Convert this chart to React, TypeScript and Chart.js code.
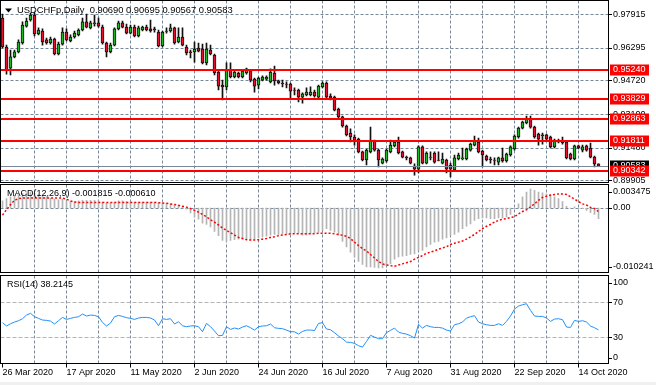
import React, { useEffect, useRef } from 'react';
import { Chart, registerables } from 'chart.js';

Chart.register(...registerables);

// ---------- data ----------
const dateTicks = ['26 Mar 2020', '17 Apr 2020', '11 May 2020', '2 Jun 2020', '24 Jun 2020', '16 Jul 2020', '7 Aug 2020', '31 Aug 2020', '22 Sep 2020', '14 Oct 2020'];
const BARS_PER_LABEL = 16;
const BARS_PER_GRID = 8;
const SLOT_COUNT = 152;

const opens = [
  0.9774, 0.9634, 0.9532, 0.9586, 0.9610, 0.9653, 0.9735, 0.9764, 0.9788, 0.9697,
  0.9711, 0.9668, 0.9653, 0.9672, 0.9600, 0.9648, 0.9706, 0.9663, 0.9682, 0.9692,
  0.9716, 0.9755, 0.9726, 0.9747, 0.9750, 0.9730, 0.9653, 0.9610, 0.9643, 0.9721,
  0.9750, 0.9730, 0.9701, 0.9730, 0.9687, 0.9716, 0.9730, 0.9721, 0.9721, 0.9706,
  0.9639, 0.9711, 0.9711, 0.9726, 0.9658, 0.9682, 0.9634, 0.9610, 0.9610, 0.9629,
  0.9624, 0.9557, 0.9619, 0.9595, 0.9513, 0.9450, 0.9441, 0.9523, 0.9489, 0.9508,
  0.9489, 0.9508, 0.9518, 0.9479, 0.9450, 0.9474, 0.9479, 0.9465, 0.9508, 0.9470,
  0.9460, 0.9455, 0.9455, 0.9426, 0.9426, 0.9392, 0.9402, 0.9402, 0.9416, 0.9392,
  0.9441, 0.9460, 0.9397, 0.9392, 0.9334, 0.9296, 0.9252, 0.9218, 0.9199, 0.9189,
  0.9127, 0.9088, 0.9127, 0.9180, 0.9136, 0.9073, 0.9083, 0.9127, 0.9156, 0.9175,
  0.9127, 0.9102, 0.9098, 0.9059, 0.9044, 0.9151, 0.9073, 0.9102, 0.9122, 0.9088,
  0.9073, 0.9088, 0.9064, 0.9040, 0.9093, 0.9093, 0.9093, 0.9136, 0.9160, 0.9175,
  0.9131, 0.9107, 0.9093, 0.9088, 0.9078, 0.9098, 0.9083, 0.9112, 0.9141, 0.9199,
  0.9242, 0.9267, 0.9286, 0.9247, 0.9213, 0.9209, 0.9209, 0.9199, 0.9151, 0.9184,
  0.9180, 0.9175, 0.9117, 0.9093, 0.9156, 0.9136, 0.9156, 0.9146, 0.9102, 0.90690,
];
const highs = [
  0.9793, 0.9643, 0.9619, 0.9619, 0.9668, 0.9755, 0.9774, 0.9798, 0.9798, 0.9726,
  0.9721, 0.9677, 0.9682, 0.9677, 0.9658, 0.9726, 0.9721, 0.9692, 0.9711, 0.9721,
  0.9774, 0.9793, 0.9759, 0.9788, 0.9774, 0.9740, 0.9658, 0.9653, 0.9726, 0.9759,
  0.9759, 0.9745, 0.9740, 0.9740, 0.9735, 0.9735, 0.9740, 0.9764, 0.9730, 0.9716,
  0.9711, 0.9726, 0.9745, 0.9730, 0.9726, 0.9726, 0.9643, 0.9619, 0.9658, 0.9653,
  0.9648, 0.9653, 0.9643, 0.9600, 0.9518, 0.9474, 0.9557, 0.9557, 0.9518, 0.9513,
  0.9523, 0.9532, 0.9523, 0.9484, 0.9489, 0.9494, 0.9494, 0.9528, 0.9542, 0.9474,
  0.9474, 0.9465, 0.9460, 0.9436, 0.9431, 0.9412, 0.9436, 0.9441, 0.9426, 0.9450,
  0.9465, 0.9465, 0.9407, 0.9397, 0.9339, 0.9300, 0.9257, 0.9238, 0.9209, 0.9194,
  0.9131, 0.9141, 0.9247, 0.9184, 0.9141, 0.9098, 0.9141, 0.9184, 0.9180, 0.9199,
  0.9131, 0.9107, 0.9102, 0.9069, 0.9156, 0.9156, 0.9127, 0.9127, 0.9127, 0.9127,
  0.9122, 0.9093, 0.9073, 0.9112, 0.9122, 0.9146, 0.9146, 0.9170, 0.9204, 0.9194,
  0.9136, 0.9112, 0.9102, 0.9098, 0.9102, 0.9146, 0.9122, 0.9156, 0.9209, 0.9247,
  0.9276, 0.9300, 0.9300, 0.9252, 0.9218, 0.9218, 0.9213, 0.9204, 0.9189, 0.9189,
  0.9199, 0.9180, 0.9122, 0.9160, 0.9160, 0.9160, 0.9160, 0.9170, 0.9107, 0.90695,
];
const lows = [
  0.9629, 0.9503, 0.9499, 0.9581, 0.9605, 0.9648, 0.9730, 0.9759, 0.9687, 0.9692,
  0.9643, 0.9648, 0.9648, 0.9595, 0.9595, 0.9643, 0.9663, 0.9658, 0.9677, 0.9687,
  0.9711, 0.9726, 0.9721, 0.9735, 0.9730, 0.9648, 0.9586, 0.9605, 0.9639, 0.9716,
  0.9726, 0.9697, 0.9697, 0.9682, 0.9682, 0.9711, 0.9711, 0.9706, 0.9706, 0.9634,
  0.9634, 0.9701, 0.9706, 0.9648, 0.9653, 0.9639, 0.9595, 0.9581, 0.9561, 0.9610,
  0.9552, 0.9547, 0.9595, 0.9499, 0.9426, 0.9378, 0.9426, 0.9484, 0.9484, 0.9484,
  0.9484, 0.9503, 0.9465, 0.9416, 0.9431, 0.9470, 0.9474, 0.9460, 0.9450, 0.9455,
  0.9441, 0.9436, 0.9387, 0.9402, 0.9368, 0.9363, 0.9397, 0.9397, 0.9392, 0.9387,
  0.9436, 0.9383, 0.9378, 0.9325, 0.9291, 0.9247, 0.9204, 0.9175, 0.9160, 0.9122,
  0.9083, 0.9064, 0.9122, 0.9131, 0.9054, 0.9069, 0.9078, 0.9122, 0.9151, 0.9117,
  0.9098, 0.9088, 0.9069, 0.9015, 0.9025, 0.9069, 0.9069, 0.9088, 0.9073, 0.9083,
  0.9069, 0.9025, 0.9006, 0.9035, 0.9088, 0.9088, 0.9088, 0.9131, 0.9156, 0.9122,
  0.9054, 0.9083, 0.9073, 0.9064, 0.9064, 0.9078, 0.9078, 0.9107, 0.9136, 0.9194,
  0.9238, 0.9262, 0.9242, 0.9194, 0.9160, 0.9165, 0.9184, 0.9146, 0.9146, 0.9170,
  0.9165, 0.9093, 0.9088, 0.9088, 0.9141, 0.9127, 0.9131, 0.9098, 0.9054, 0.90567,
];
const closes = [
  0.9634, 0.9523, 0.9586, 0.9610, 0.9658, 0.9740, 0.9759, 0.9788, 0.9697, 0.9716,
  0.9658, 0.9653, 0.9672, 0.9600, 0.9648, 0.9706, 0.9668, 0.9682, 0.9701, 0.9716,
  0.9755, 0.9730, 0.9750, 0.9750, 0.9735, 0.9653, 0.9610, 0.9643, 0.9721, 0.9750,
  0.9730, 0.9701, 0.9730, 0.9687, 0.9726, 0.9730, 0.9716, 0.9711, 0.9716, 0.9639,
  0.9706, 0.9709, 0.9726, 0.9653, 0.9682, 0.9643, 0.9605, 0.9607, 0.9624, 0.9614,
  0.9557, 0.9624, 0.9600, 0.9508, 0.9445, 0.9441, 0.9523, 0.9489, 0.9513, 0.9489,
  0.9518, 0.9528, 0.9474, 0.9445, 0.9484, 0.9489, 0.9489, 0.9513, 0.9470, 0.9460,
  0.9457, 0.9453, 0.9421, 0.9424, 0.9392, 0.9407, 0.9416, 0.9416, 0.9397, 0.9445,
  0.9460, 0.9392, 0.9387, 0.9329, 0.9296, 0.9252, 0.9209, 0.9199, 0.9184, 0.9127,
  0.9088, 0.9136, 0.9184, 0.9136, 0.9088, 0.9093, 0.9136, 0.9160, 0.9175, 0.9122,
  0.9102, 0.9098, 0.9073, 0.9044, 0.9151, 0.9073, 0.9122, 0.9100, 0.9078, 0.9086,
  0.9093, 0.9044, 0.9044, 0.9098, 0.9112, 0.9098, 0.9141, 0.9165, 0.9180, 0.9127,
  0.9112, 0.9088, 0.9090, 0.9086, 0.9098, 0.9083, 0.9117, 0.9151, 0.9204, 0.9242,
  0.9271, 0.9291, 0.9247, 0.9199, 0.9189, 0.9206, 0.9189, 0.9151, 0.9184, 0.9175,
  0.9170, 0.9098, 0.9093, 0.9156, 0.9146, 0.9151, 0.9136, 0.9102, 0.9069, 0.90583,
];

const macdHist = [
  0.0012, 0.0016, 0.0019, 0.0021, 0.0023, 0.0025, 0.0026, 0.0027, 0.0025, 0.0023,
  0.0021, 0.0019, 0.0017, 0.0015, 0.0014, 0.0015, 0.0012, 0.0011, 0.0011, 0.0012,
  0.0013, 0.0013, 0.0013, 0.0013, 0.0012, 0.0010, 0.0008, 0.0008, 0.0010, 0.0012,
  0.0012, 0.0011, 0.0011, 0.0010, 0.0010, 0.0010, 0.0010, 0.0010, 0.0010, 0.0009,
  0.0008, 0.0008, 0.0007, 0.0005, 0.0004, 0.0002, -0.0002, -0.00085, -0.0015, -0.0019,
  -0.0026, -0.0028, -0.0032, -0.0040, -0.0047, -0.0055, -0.0057, -0.0055, -0.0054, -0.0053,
  -0.0053, -0.0054, -0.0054, -0.0053, -0.0051, -0.0049, -0.0048, -0.0046, -0.0045, -0.0045,
  -0.0044, -0.0044, -0.0044, -0.0043, -0.0043, -0.0046, -0.0046, -0.0044, -0.0042, -0.0041,
  -0.0038, -0.0035, -0.0038, -0.0041, -0.0046, -0.0057, -0.0066, -0.0075, -0.0083, -0.0091,
  -0.0096, -0.0100, -0.0100, -0.0101, -0.0102, -0.0102, -0.0098, -0.0095, -0.0087, -0.0083,
  -0.0082, -0.0081, -0.0079, -0.0078, -0.0072, -0.0072, -0.0066, -0.0062, -0.0058, -0.0057,
  -0.0053, -0.0051, -0.0046, -0.0045, -0.0041, -0.0035, -0.0031, -0.0027, -0.0021, -0.0018,
  -0.0017, -0.0017, -0.0018, -0.0018, -0.0017, -0.0017, -0.0015, -0.0011, -0.0001, 0.0007,
  0.0019, 0.0027, 0.0032, 0.0030, 0.0027, 0.0026, 0.0024, 0.0022, 0.0019, 0.0016,
  0.0011, 0.0003, 0.0000, 0.0002, -0.0001, -0.0001, -0.0004, -0.0008, -0.0011, -0.001815,
];
const macdSignal = [
  -0.0012, -0.0003, 0.0006, 0.0013, 0.0016, 0.0017, 0.0017, 0.0017, 0.0017, 0.0017,
  0.0017, 0.0017, 0.0017, 0.0017, 0.0017, 0.0017, 0.0015, 0.0012, 0.0010, 0.00095,
  0.00095, 0.00095, 0.00095, 0.00095, 0.00095, 0.00095, 0.00095, 0.00095, 0.00095, 0.00095,
  0.00095, 0.00095, 0.00095, 0.00095, 0.00095, 0.00095, 0.00095, 0.00095, 0.00095, 0.0009,
  0.00085, 0.0008, 0.0007, 0.0006, 0.00045, 0.0003, 0.00015, -0.0001, -0.0004, -0.0007,
  -0.0011, -0.0015, -0.0020, -0.0024, -0.0029, -0.0034, -0.0038, -0.0042, -0.0046, -0.0050,
  -0.0052, -0.0054, -0.00545, -0.00545, -0.0054, -0.0053, -0.0052, -0.0050, -0.0049, -0.0047,
  -0.0046, -0.0045, -0.0044, -0.0044, -0.00437, -0.0044, -0.0044, -0.0044, -0.0044, -0.0043,
  -0.0043, -0.0043, -0.0043, -0.0044, -0.0045, -0.00465, -0.0048, -0.0052, -0.0058, -0.0064,
  -0.0069, -0.0073, -0.0079, -0.0085, -0.0091, -0.0095, -0.0097, -0.0098, -0.0099, -0.0097,
  -0.0095, -0.0093, -0.0091, -0.0087, -0.0084, -0.0081, -0.0077, -0.0075, -0.0073, -0.0070,
  -0.0068, -0.0066, -0.0062, -0.0060, -0.0058, -0.0056, -0.0053, -0.0049, -0.0045, -0.0040,
  -0.0035, -0.0031, -0.0028, -0.0024, -0.0021, -0.0019, -0.0018, -0.0016, -0.0015, -0.0010,
  -0.0006, -0.0003, 0.0002, 0.0007, 0.0013, 0.0018, 0.0020, 0.0022, 0.0023, 0.0024,
  0.0024, 0.0023, 0.0019, 0.0015, 0.0011, 0.0007, 0.0005, 0.0001, -0.0001, -0.00061,
];
const rsiValues = [
  46.5, 42.7, 45.3, 47.3, 48.8, 51.1, 55.3, 57.3, 53.4, 51.5,
  49.6, 49.2, 48.4, 45.0, 48.8, 52.6, 50.3, 51.5, 52.6, 53.4,
  56.5, 54.2, 55.3, 54.9, 53.4, 46.9, 42.7, 46.1, 53.4, 54.9,
  53.8, 52.3, 51.5, 50.3, 51.9, 52.6, 52.6, 51.9, 49.6, 43.0,
  51.1, 50.3, 51.1, 45.0, 47.6, 43.0, 41.9, 42.7, 43.0, 41.9,
  36.1, 45.7, 41.9, 36.9, 31.5, 31.9, 41.9, 38.8, 40.4, 39.2,
  41.5, 43.0, 40.7, 38.0, 41.9, 42.7, 43.0, 45.0, 40.7, 40.0,
  39.6, 38.0, 36.1, 36.1, 33.4, 36.5, 38.0, 38.0, 37.5, 45.7,
  46.5, 39.2, 38.4, 35.0, 31.1, 28.1, 24.2, 23.8, 22.7, 20.0,
  18.4, 25.0, 31.9, 30.0, 28.1, 28.1, 35.0, 37.7, 40.3, 35.7,
  34.2, 33.4, 31.5, 28.8, 44.6, 40.3, 43.4, 41.9, 41.1, 41.1,
  40.3, 38.0, 36.9, 44.2, 45.3, 47.3, 51.9, 53.4, 54.6, 47.3,
  45.3, 44.2, 43.4, 43.4, 45.3, 43.4, 48.0, 54.2, 62.2, 65.7,
  67.2, 68.4, 60.7, 54.2, 53.8, 53.8, 51.9, 48.0, 50.7, 51.1,
  50.0, 41.5, 41.1, 49.2, 48.0, 48.8, 47.3, 42.7, 40.7, 38.2145,
];

const priceTicks = [0.97915, 0.96295, 0.94720, 0.93100, 0.91480, 0.89905];
const levelLines = [0.95240, 0.93829, 0.92863, 0.91811, 0.90342];
const bidPrice = 0.90583;
const macdTicks = [0.003475, 0, -0.010241];
const macdTickText = ['0.003475', '0.00', '-0.010241'];
const rsiTicks = [100, 70, 30, 0];
const rsiLevels = [70, 30];

const mainTitle = 'USDCHFp,Daily  0.90690 0.90695 0.90567 0.90583';
const macdTitle = 'MACD(12,26,9) -0.001815 -0.000610';
const rsiTitle = 'RSI(14) 38.2145';

// ---------- styling ----------
const W = 656;
const FONT_FAMILY = '"Liberation Sans", Arial, sans-serif';
const FONT = '9px ' + FONT_FAMILY;
const GRID_COLOR = '#778899';
const RIGHT_GAP = 47.5;
const BULL = '#21b521';
const BEAR = '#e0102e';

type Tick = { value: number; text: string };
type PanelOpts = {
  id: string;
  title: string;
  titleDx: number;
  titleDy: number;
  titleWidth?: number;
  triangle?: boolean;
  yTicks: Tick[];
  clampLabels?: boolean;
  hGrid: number[];
  hGridColor: string;
  hGridDash: number[];
  levels?: number[];
  bid?: number;
  xLabels?: boolean;
};

function panelPlugin(o: PanelOpts) {
  return {
    id: o.id,
    beforeDatasetsDraw(chart: any) {
      const { ctx, chartArea: a, scales } = chart;
      const xs = scales.x;
      const ys = scales.y;
      ctx.save();
      ctx.lineWidth = 1;
      ctx.strokeStyle = GRID_COLOR;
      ctx.setLineDash([3, 2]);
      for (let i = BARS_PER_GRID; i < SLOT_COUNT; i += BARS_PER_GRID) {
        const px = xs.getPixelForValue(i);
        if (px >= a.right) break;
        ctx.beginPath();
        ctx.moveTo(px, a.top);
        ctx.lineTo(px, a.bottom);
        ctx.stroke();
      }
      ctx.strokeStyle = o.hGridColor;
      ctx.setLineDash(o.hGridDash);
      for (const v of o.hGrid) {
        const py = Math.round(ys.getPixelForValue(v)) + 0.5;
        ctx.beginPath();
        ctx.moveTo(a.left, py);
        ctx.lineTo(a.right, py);
        ctx.stroke();
      }
      ctx.restore();
    },
    afterDatasetsDraw(chart: any) {
      const { ctx, chartArea: a, scales } = chart;
      const xs = scales.x;
      const ys = scales.y;
      ctx.save();
      ctx.setLineDash([]);
      if (o.bid !== undefined) {
        const py = Math.round(ys.getPixelForValue(o.bid)) + 0.5;
        ctx.strokeStyle = GRID_COLOR;
        ctx.lineWidth = 1;
        ctx.beginPath();
        ctx.moveTo(a.left, py);
        ctx.lineTo(a.right, py);
        ctx.stroke();
      }
      if (o.levels) {
        ctx.strokeStyle = '#ff0000';
        ctx.lineWidth = 2;
        for (const v of o.levels) {
          const py = Math.round(ys.getPixelForValue(v));
          ctx.beginPath();
          ctx.moveTo(a.left, py);
          ctx.lineTo(a.right, py);
          ctx.stroke();
        }
      }
      // panel border
      ctx.strokeStyle = '#000';
      ctx.lineWidth = 1;
      ctx.strokeRect(a.left, a.top, a.right - a.left, a.bottom - a.top);

      ctx.textBaseline = 'middle';
      ctx.textAlign = 'left';
      ctx.fillStyle = '#000';
      if (o.triangle) {
        const tx = a.left + 4.5;
        const ty = a.top + o.titleDy - 2;
        ctx.beginPath();
        ctx.moveTo(tx, ty);
        ctx.lineTo(tx + 7, ty);
        ctx.lineTo(tx + 3.5, ty + 4);
        ctx.closePath();
        ctx.fill();
      }
      ctx.font = FONT;
      if (o.titleWidth) {
        const w = ctx.measureText(o.title).width;
        const size = Math.max(8, Math.min(12, (9 * o.titleWidth) / w));
        ctx.font = size.toFixed(2) + 'px ' + FONT_FAMILY;
      }
      ctx.fillText(o.title, a.left + o.titleDx, a.top + o.titleDy);
      ctx.font = FONT;

      // right axis labels
      for (const t of o.yTicks) {
        let py = ys.getPixelForValue(t.value);
        if (o.clampLabels) py = Math.min(Math.max(py, a.top + 7.5), a.bottom - 6);
        const ty = Math.round(py) + 0.5;
        ctx.strokeStyle = '#000';
        ctx.beginPath();
        ctx.moveTo(a.right + 0.5, ty);
        ctx.lineTo(a.right + 3.5, ty);
        ctx.stroke();
        ctx.fillStyle = '#000';
        ctx.fillText(t.text, a.right + 4.5, py);
      }

      const box = (v: number, bg: string) => {
        const py = Math.round(ys.getPixelForValue(v));
        ctx.fillStyle = bg;
        ctx.fillRect(a.right + 1.5, py - 5.5, 39, 11);
        ctx.fillStyle = '#fff';
        ctx.fillText(v.toFixed(5), a.right + 4.5, py);
      };
      if (o.bid !== undefined) box(o.bid, '#000');
      if (o.levels) for (const v of o.levels) box(v, '#ff0000');

      if (o.xLabels) {
        ctx.fillStyle = '#000';
        ctx.strokeStyle = '#000';
        dateTicks.forEach((label, k) => {
          const px = xs.getPixelForValue(k * BARS_PER_LABEL);
          ctx.beginPath();
          ctx.moveTo(px, a.bottom);
          ctx.lineTo(px, a.bottom + 4);
          ctx.stroke();
          ctx.fillText(label, px, a.bottom + 9.5);
        });
      }
      ctx.restore();
    },
  };
}

function baseOptions(yMin: number, yMax: number, padTop: number, padBottom: number): any {
  return {
    responsive: false,
    maintainAspectRatio: false,
    animation: false,
    devicePixelRatio: 1,
    events: [],
    layout: { padding: { left: 0.5, right: RIGHT_GAP, top: padTop, bottom: padBottom } },
    plugins: { legend: { display: false }, tooltip: { enabled: false }, title: { display: false } },
    scales: {
      x: { type: 'category', display: false, offset: true, grid: { display: false } },
      y: { type: 'linear', display: false, min: yMin, max: yMax },
    },
  };
}

const slots = Array.from({ length: SLOT_COUNT }, (_, i) => String(i));

export default function App() {
  const mainRef = useRef<HTMLCanvasElement>(null);
  const macdRef = useRef<HTMLCanvasElement>(null);
  const rsiRef = useRef<HTMLCanvasElement>(null);

  useEffect(() => {
    document.body.style.margin = '0';

    const bodyColors = closes.map((c, i) => (c >= opens[i] ? BULL : BEAR));
    const mainChart = new Chart(mainRef.current as HTMLCanvasElement, {
      type: 'bar',
      data: {
        labels: slots,
        datasets: [
          {
            data: opens.map((o, i) => [o, closes[i]]) as any,
            backgroundColor: bodyColors,
            borderColor: '#111',
            borderWidth: 1,
            borderSkipped: false,
            barThickness: 3,
            grouped: false,
          } as any,
          {
            data: lows.map((l, i) => [l, highs[i]]) as any,
            backgroundColor: '#111',
            borderWidth: 0,
            barThickness: 1,
            grouped: false,
          } as any,
        ],
      },
      options: baseOptions(0.89793, 0.98584, 0.5, 1.5),
      plugins: [
        panelPlugin({
          id: 'mainPanel',
          title: mainTitle,
          titleDx: 16.5,
          titleDy: 10,
          titleWidth: 216,
          triangle: true,
          yTicks: priceTicks.map((v) => ({ value: v, text: v.toFixed(5) })),
          hGrid: priceTicks,
          hGridColor: GRID_COLOR,
          hGridDash: [3, 2],
          levels: levelLines,
          bid: bidPrice,
        }),
      ],
    });

    const macdChart = new Chart(macdRef.current as HTMLCanvasElement, {
      type: 'bar',
      data: {
        labels: slots,
        datasets: [
          {
            type: 'line',
            data: macdSignal,
            borderColor: '#ff0000',
            borderWidth: 1.5,
            borderDash: [2, 2],
            pointRadius: 0,
            fill: false,
            tension: 0,
          } as any,
          {
            type: 'bar',
            data: macdHist,
            backgroundColor: '#b4b4b4',
            borderWidth: 0,
            barThickness: 1,
            grouped: false,
          } as any,
        ],
      },
      options: baseOptions(-0.010969, 0.0039966, 1.5, 1.5),
      plugins: [
        panelPlugin({
          id: 'macdPanel',
          title: macdTitle,
          titleDx: 6.5,
          titleDy: 9.5,
          yTicks: macdTicks.map((v, i) => ({ value: v, text: macdTickText[i] })),
          clampLabels: true,
          hGrid: [0],
          hGridColor: GRID_COLOR,
          hGridDash: [3, 2],
        }),
      ],
    });

    const rsiChart = new Chart(rsiRef.current as HTMLCanvasElement, {
      type: 'line',
      data: {
        labels: slots,
        datasets: [
          {
            data: rsiValues,
            borderColor: '#1e90ff',
            borderWidth: 1,
            pointRadius: 0,
            fill: false,
            tension: 0,
          },
        ],
      },
      options: baseOptions(-0.5, 100.9, 1.5, 21.5),
      plugins: [
        panelPlugin({
          id: 'rsiPanel',
          title: rsiTitle,
          titleDx: 6.5,
          titleDy: 9.5,
          yTicks: rsiTicks.map((v) => ({ value: v, text: String(v) })),
          clampLabels: true,
          hGrid: rsiLevels,
          hGridColor: '#b4b4b4',
          hGridDash: [4, 2],
          xLabels: true,
        }),
      ],
    });

    return () => {
      mainChart.destroy();
      macdChart.destroy();
      rsiChart.destroy();
    };
  }, []);

  return (
    <div style={{ position: 'fixed', left: 0, top: 0, width: W, height: 385, background: '#fff', overflow: 'hidden' }}>
      <canvas ref={mainRef} width={W} height={184} style={{ position: 'absolute', left: 0, top: 0 }} />
      <canvas ref={macdRef} width={W} height={91} style={{ position: 'absolute', left: 0, top: 183 }} />
      <canvas ref={rsiRef} width={W} height={111} style={{ position: 'absolute', left: 0, top: 274 }} />
      <div style={{ position: 'absolute', left: 0, top: 382, width: W, height: 3, background: '#f0f0f0' }} />
    </div>
  );
}
